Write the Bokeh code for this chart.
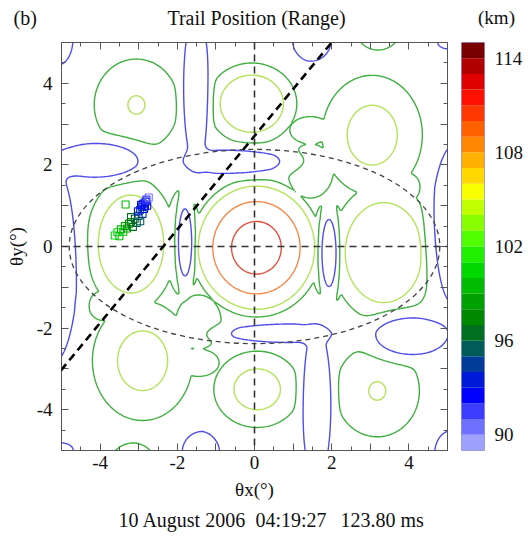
import numpy as np
from bokeh.plotting import figure
from bokeh.layouts import column, row
from bokeh.models import (LinearAxis, FixedTicker, LinearColorMapper, Span, Slope,
                          ColumnDataSource, Range1d)
from bokeh.core.properties import value
from bokeh.embed import file_html
from bokeh.resources import INLINE

# ---------------- data ----------------
# lobes of the interference pattern: centre, height above base, widths
lobe_x = [0.05, -3.2, 3.35, -3.06, 3.18, 3.05, -2.9, -0.07, 0.07, 3.2, -3.15,
          -1.85, 1.93, 1.45, -1.45, 1.45, -1.45, 3.9, -3.9]
lobe_y = [-0.03, 0.06, -0.15, 3.47, -3.54, 2.73, -2.8, 3.5, -3.5, 5.45, -5.45,
          0.1, -0.16, 1.85, -1.85, 2.85, -2.85, 1.45, -1.45]
lobe_a = [0.72, 0.313, 0.313, 0.223, 0.223, 0.2446, 0.2446, 0.30, 0.25, 0.2, 0.2,
          0.2, 0.2, 0.21, 0.21, 0.2, 0.2, 0.2, 0.2]
lobe_sx = [0.98, 1.01, 1.19, 1.34, 1.34, 1.41, 1.41, 1.04, 1.19, 0.95, 0.95,
           0.7, 0.7, 0.8, 0.8, 0.8, 0.8, 0.6, 0.6]
lobe_sy = [0.98, 1.43, 1.46, 1.38, 1.38, 1.59, 1.59, 0.89, 0.99, 0.95, 0.95,
           2.0, 2.0, 0.9, 0.9, 0.5, 0.5, 0.55, 0.55]
# valleys (nulls): centre, depth below base, half widths
valley_x = [-1.8, 1.93, -0.57, 0.68, -1.52, 1.62, -5.15, 5.15, -3.98, 4.0,
            -5.05, 5.05, -5.0, 5.0, 1.5, -1.4]
valley_y = [0.1, -0.16, 2.08, -2.13, 3.8, -3.8, -0.55, 0.55, 2.12, -2.2,
            5.05, -5.05, -5.0, 5.0, 5.0, -5.0]
valley_d = [0.55, 0.55, 0.4, 0.4, 0.55, 0.55, 0.45, 0.45, 0.45, 0.45,
            0.3, 0.3, 0.3, 0.3, 0.3, 0.3]
valley_sx = [0.17, 0.18, 1.25, 1.28, 0.29, 0.33, 0.5, 0.5, 0.95, 0.85,
             0.35, 0.4, 0.3, 0.25, 0.5, 0.5]
valley_sy = [0.8, 0.8, 0.28, 0.22, 1.5, 1.5, 2.0, 1.75, 0.4, 0.45,
             0.6, 0.55, 0.18, 0.15, 0.48, 0.5]
field_base = 0.28
contour_levels = [0.15, 0.44, 0.50, 0.65, 0.86]
contour_colors = ["#4e4ee8", "#3faf3f", "#b2e35a", "#f5894a", "#e0503c"]

# meteor trail detections: theta x, theta y (deg), range (km)
trail_x = [-3.62, -3.55, -3.5, -3.46, -3.4, -3.36, -3.3, -3.34, -3.25,
           -3.2, -3.15, -3.1, -3.05, -3.2, -3.0, -2.96,
           -3.02, -2.96, -2.92, -2.88, -2.84, -2.9, -2.82, -2.78, -2.86,
           -2.94, -2.74, -2.8]
trail_y = [0.27, 0.35, 0.25, 0.42, 0.36, 0.5, 0.44, 1.03, 0.56,
           0.6, 0.48, 0.68, 0.58, 0.72, 0.75, 0.62,
           0.86, 0.9, 0.98, 1.05, 0.98, 0.8, 1.1, 1.0, 0.92,
           1.02, 1.2, 1.15]
trail_r = [100.5, 100, 99.5, 99, 99, 98.5, 98, 99.5, 97.5,
           97, 96.5, 96, 95.5, 96, 95, 95,
           93.5, 93, 93, 92.5, 92.5, 94, 92, 92, 93,
           93, 90.5, 91]

# reference lines
ellipse_axes = [4.8, 2.38]
track_slope, track_intercept = 1.146, 2.71

# colour scale
cbar_low, cbar_high = 89, 115
cbar_ticks = [90, 96, 102, 108, 114]
cbar_palette = ["#a0a0ff", "#7070ff", "#3c3cff", "#0000ff", "#0018d8", "#003c98",
                "#005c58", "#007020", "#008800", "#00a000", "#00bc00", "#00d800",
                "#20f000", "#50ff00", "#88ff00", "#c0ff00", "#f8ff00", "#ffd800",
                "#ffb000", "#ff8800", "#ff6000", "#ff3800", "#ff1000", "#e00000",
                "#b00000", "#7a0000"]

title_text = "Trail Position (Range)"
panel_tag = "(b)"
unit_text = "(km)"
caption_parts = ["10 August 2006", "04:19:27", "123.80 ms"]

# ---------------- field on a grid ----------------
gx = np.linspace(-5.5, 5.5, 276)
gy = np.linspace(-5.5, 5.5, 276)
X, Y = np.meshgrid(gx, gy)
peak = np.zeros_like(X)
for x0, y0, a, sx, sy in zip(lobe_x, lobe_y, lobe_a, lobe_sx, lobe_sy):
    r2 = (X - x0) ** 2 / sx ** 2 + (Y - y0) ** 2 / sy ** 2
    peak = np.maximum(peak, a * np.exp(-0.5 * r2))
Z = field_base + peak
for x0, y0, d, sx, sy in zip(valley_x, valley_y, valley_d, valley_sx, valley_sy):
    r2 = (X - x0) ** 2 / sx ** 2 + (Y - y0) ** 2 / sy ** 2
    Z -= d * np.exp(-0.5 * r2 ** 2)

SERIF = "Liberation Serif"
FS = "19px"
FT = "20px"
INK = "#111111"


def text_strip(width, height):
    f = figure(width=width, height=height, x_range=Range1d(0, width), y_range=Range1d(0, height),
               output_backend="svg", toolbar_location=None, min_border=0,
               x_axis_location=None, y_axis_location=None)
    f.grid.visible = False
    f.outline_line_color = None
    return f


def put_text(f, x, y, txt, align, size=FT):
    f.text(x=[x], y=[y], text=[txt], text_align=align, text_baseline="middle",
           text_font=value(SERIF), text_font_size=value(size), text_color=INK)


# header with (b), title, (km)
head = text_strip(528, 36)
put_text(head, 13, 19, panel_tag, "left")
put_text(head, 256, 19, title_text, "center")
put_text(head, 496, 19, unit_text, "center", FS)

# main plot
p = figure(frame_width=386, frame_height=408, x_range=(-5, 5), y_range=(-5, 5),
           output_backend="svg", toolbar_location=None,
           min_border_left=61, min_border_right=14, min_border_top=6, min_border_bottom=56)
p.grid.visible = False
p.outline_line_color = "#555555"

ticks = [-4, -3, -2, -1, 0, 1, 2, 3, 4]
minor = [v / 2 for v in range(-10, 11)]


def style_axis(ax, show_labels=True):
    ax.ticker = FixedTicker(ticks=ticks, minor_ticks=minor)
    if show_labels:
        ax.major_label_overrides = {t: ("" if t % 2 else str(t)) for t in ticks}
    else:
        ax.major_label_overrides = {t: "" for t in ticks}
        ax.major_label_standoff = 0
    ax.axis_line_color = "#555555"
    ax.major_tick_line_color = "#555555"
    ax.minor_tick_line_color = "#555555"
    ax.major_tick_in = 7
    ax.major_tick_out = 0
    ax.minor_tick_in = 4
    ax.minor_tick_out = 0
    ax.major_label_text_font = SERIF
    ax.major_label_text_font_size = FS
    ax.major_label_text_color = INK
    ax.axis_label_text_font = SERIF
    ax.axis_label_text_font_size = FS
    ax.axis_label_text_font_style = "normal"
    ax.axis_label_text_color = INK


style_axis(p.xaxis[0])
style_axis(p.yaxis[0])
p.xaxis[0].axis_label = "θx(°)"
p.yaxis[0].axis_label = "θy(°)"
p.xaxis[0].major_label_standoff = 5
p.yaxis[0].major_label_standoff = 9
p.xaxis[0].axis_label_standoff = 7
p.yaxis[0].axis_label_standoff = 7

top_ax = LinearAxis()
style_axis(top_ax, False)
right_ax = LinearAxis()
style_axis(right_ax, False)
p.add_layout(top_ax, "above")
p.add_layout(right_ax, "right")

p.contour(gx, gy, Z, contour_levels, line_color=contour_colors, line_width=1.4)

p.add_layout(Span(location=0, dimension="width", line_color="#333333",
                  line_width=1.6, line_dash="7 5"))
p.add_layout(Span(location=0, dimension="height", line_color="#333333",
                  line_width=1.6, line_dash="7 5"))
p.ellipse(x=0, y=0, width=2 * ellipse_axes[0], height=2 * ellipse_axes[1],
          fill_color=None, line_color="#444444", line_width=1.3, line_dash="5 4")
p.add_layout(Slope(gradient=track_slope, y_intercept=track_intercept,
                   line_color="black", line_width=2.6, line_dash="8 5"))

mapper = LinearColorMapper(palette=cbar_palette, low=cbar_low, high=cbar_high)
src = ColumnDataSource(dict(x=trail_x, y=trail_y, r=trail_r))
p.scatter("x", "y", source=src, marker="square", size=7, fill_color=None,
          line_color={"field": "r", "transform": mapper}, line_width=1.1)

# colour bar as its own small figure
cbf = figure(frame_width=23, frame_height=408, x_range=Range1d(0, 1),
             y_range=Range1d(cbar_low, cbar_high), output_backend="svg",
             toolbar_location=None, min_border_left=0, min_border_right=44,
             min_border_top=6, min_border_bottom=56,
             x_axis_location=None, y_axis_location="right")
cbf.grid.visible = False
cbf.outline_line_color = "#9a9ad8"
band_edges = np.linspace(cbar_low, cbar_high, len(cbar_palette) + 1)
cbf.quad(left=0, right=1, bottom=band_edges[:-1], top=band_edges[1:],
         fill_color=cbar_palette, line_color=None)
cax = cbf.yaxis[0]
cax.ticker = FixedTicker(ticks=cbar_ticks)
cax.axis_line_color = None
cax.major_tick_line_color = None
cax.minor_tick_line_color = None
cax.major_label_standoff = 4
cax.major_label_text_font = SERIF
cax.major_label_text_font_size = FS
cax.major_label_text_color = INK

# footer caption (three parts, keeping the wide gaps)
foot = text_strip(528, 28)
for txt, x0 in zip(caption_parts, [118, 255, 340]):
    put_text(foot, x0, 15, txt, "left")

layout = column(head, row(p, cbf), foot)
open("out.html", "w").write(file_html(layout, INLINE))
